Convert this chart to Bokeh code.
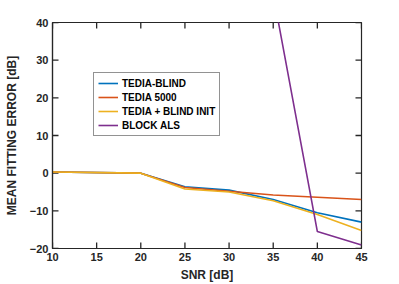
from bokeh.plotting import figure
from bokeh.models import Range1d, FixedTicker, Legend, LegendItem
from bokeh.embed import file_html
from bokeh.resources import INLINE

snr = [10, 20, 25, 30, 35, 40, 45]
tedia_blind = [0.3, 0.0, -3.6, -4.5, -7.0, -10.5, -13.0]
tedia_5000 = [0.3, 0.0, -3.8, -4.8, -5.8, -6.4, -7.0]
tedia_init = [0.3, 0.0, -4.2, -5.0, -7.3, -11.0, -15.2]
snr_als = [35, 40, 45]
block_als = [47.5, -15.5, -19.1]

x_ticks = [10, 15, 20, 25, 30, 35, 40, 45]
y_ticks = [-20, -10, 0, 10, 20, 30, 40]
X0, X1 = 10, 45
Y0, Y1 = -20, 40

names = ["TEDIA-BLIND", "TEDIA 5000", "TEDIA + BLIND INIT", "BLOCK ALS"]
colors = ["#0072BD", "#D95319", "#EDB120", "#7E2F8E"]

FONT = "Liberation Sans"
AX = "#262626"
TICK_X = 0.68  # inward tick length in x units (about 6 px)
TICK_Y = 1.6   # inward tick length in y units (about 6 px)

W, H = 391, 284
p = figure(width=W, height=H, output_backend="svg", toolbar_location=None,
           x_range=Range1d(X0, X1), y_range=Range1d(Y0, Y1),
           min_border_left=52, min_border_right=W - 361, min_border_top=22, min_border_bottom=H - 248)
p.xgrid.visible = False
p.ygrid.visible = False
p.outline_line_color = AX
p.outline_line_width = 1.2
p.background_fill_color = "white"
p.border_fill_color = "white"

for ax, ticks in ((p.xaxis[0], x_ticks), (p.yaxis[0], y_ticks)):
    ax.ticker = FixedTicker(ticks=ticks)
    ax.axis_line_color = AX
    ax.axis_line_width = 1.2
    ax.major_tick_line_color = None
    ax.major_tick_in = 0
    ax.major_tick_out = 0
    ax.minor_tick_line_color = None
    ax.minor_tick_in = 0
    ax.minor_tick_out = 0
    ax.major_label_text_font = FONT
    ax.major_label_text_font_style = "bold"
    ax.major_label_text_font_size = "11px"
    ax.major_label_text_color = "#262626"
    ax.major_label_standoff = 4
    ax.axis_label_text_font = FONT
    ax.axis_label_text_font_style = "bold"
    ax.axis_label_text_font_size = "12px"
    ax.axis_label_text_color = "#262626"
p.xaxis.axis_label = "SNR [dB]"
p.yaxis.axis_label = "MEAN FITTING ERROR [dB]"
p.xaxis[0].axis_label_standoff = 4
p.yaxis[0].axis_label_standoff = 8

# inward tick marks on all four sides, placed at the tick values
nx, ny = len(x_ticks), len(y_ticks)
p.segment(x0=x_ticks * 2, y0=[Y0] * nx + [Y1] * nx,
          x1=x_ticks * 2, y1=[Y0 + TICK_Y] * nx + [Y1 - TICK_Y] * nx,
          line_color=AX, line_width=1.3)
p.segment(x0=[X0] * ny + [X1] * ny, y0=y_ticks * 2,
          x1=[X0 + TICK_X] * ny + [X1 - TICK_X] * ny, y1=y_ticks * 2,
          line_color=AX, line_width=1.3)

r1 = p.line(snr, tedia_blind, line_color=colors[0], line_width=1.6)
r2 = p.line(snr, tedia_5000, line_color=colors[1], line_width=1.6)
r3 = p.line(snr, tedia_init, line_color=colors[2], line_width=1.6)
r4 = p.line(snr_als, block_als, line_color=colors[3], line_width=1.6)

legend = Legend(items=[LegendItem(label=n, renderers=[r]) for n, r in zip(names, [r1, r2, r3, r4])],
                location=(41, 112))
legend.label_text_font = FONT
legend.label_text_font_style = "bold"
legend.label_text_font_size = "10px"
legend.label_text_color = "black"
legend.label_height = 12
legend.glyph_height = 12
legend.glyph_width = 20
legend.label_standoff = 4
legend.spacing = 2
legend.padding = 4
legend.margin = 0
legend.border_line_color = AX
legend.border_line_width = 1
legend.background_fill_alpha = 1
p.add_layout(legend, "center")

open("out.html", "w").write(file_html(p, INLINE))
